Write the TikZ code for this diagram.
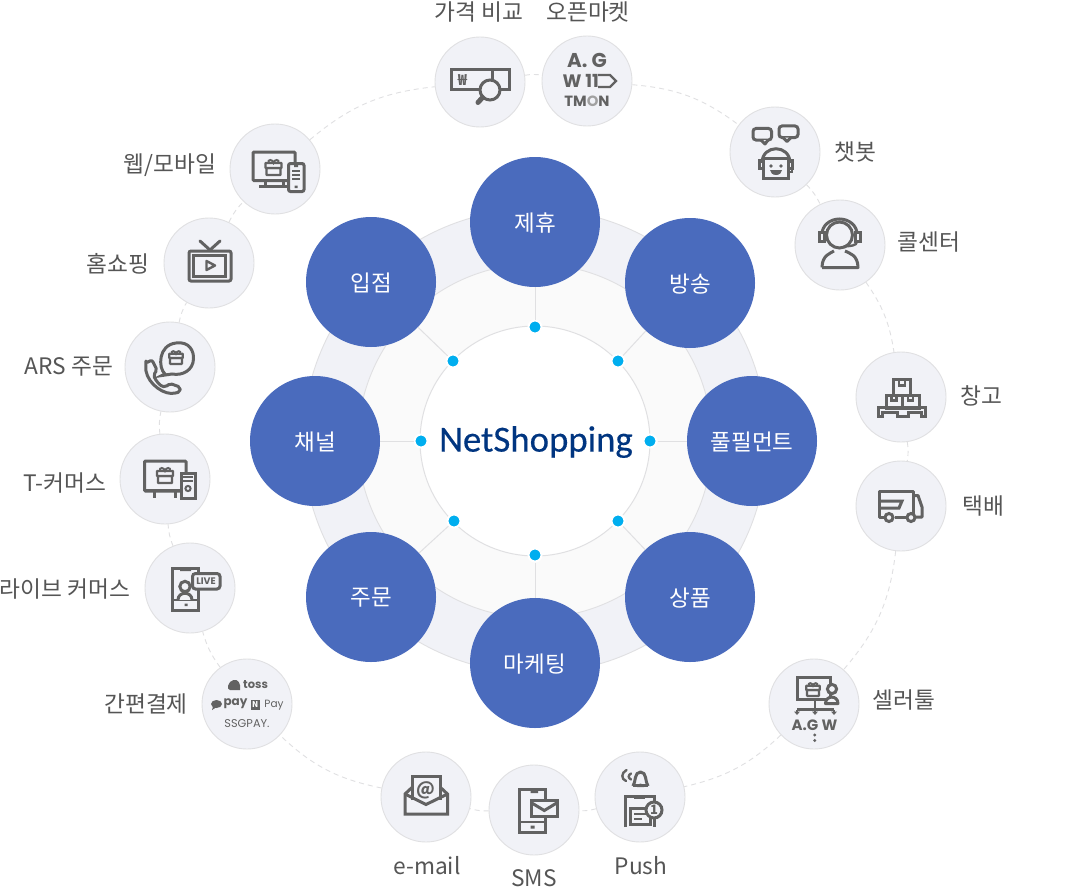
\documentclass[tikz,border=0pt]{standalone}
\usepackage{fontspec}
\setmainfont{Noto Sans CJK KR}
\newfontfamily\logofont[FakeBold=0.35]{Carlito}
\newfontfamily\brandfont{Poppins}
\newcommand{\hubtext}[1]{\raisebox{-1pt}[\height][\depth]{#1}}
\definecolor{ringout}{HTML}{F1F2F7}
\definecolor{ringmid}{HTML}{FAFAFA}
\definecolor{ringline}{HTML}{E0E0E2}
\definecolor{hubblue}{HTML}{4A6BBD}
\definecolor{dotblue}{HTML}{00AEEF}
\definecolor{iconbg}{HTML}{F1F2F7}
\definecolor{icongray}{HTML}{626262}
\definecolor{labelgray}{HTML}{555555}
\definecolor{navy}{HTML}{003580}
\tikzset{
  x=1pt,y=-1pt,
  hub/.style={circle,fill=hubblue,draw=none,minimum size=130pt,inner sep=0pt,text=white,font=\fontsize{22.5}{25}\selectfont},
  chan/.style={circle,fill=iconbg,draw=ringline,line width=0.9pt,minimum size=90pt,inner sep=0pt},
  lab/.style={text=labelgray,font=\fontsize{22.7}{26}\selectfont,inner sep=0pt},
  spot/.style={circle,fill=dotblue,draw=white,line width=2pt,minimum size=13pt,inner sep=0pt},
  spoke/.style={draw=ringline,line width=1pt},
  ringlink/.style={draw=ringline,line width=0.9pt,dash pattern=on 5pt off 4pt},
  ic/.style={draw=icongray,line width=3pt,line join=miter},
  logo/.style={text=icongray,inner sep=0pt,font=\brandfont\bfseries},
  gift/.pic={
    \draw[ic,line width=2.3pt,rounded corners=0.6pt] (-7,0) rectangle (7,7);
    \draw[ic,line width=2.3pt,fill=iconbg,rounded corners=0.6pt] (-8,-5) rectangle (8,0);
    \draw[ic,line width=2pt] (-5,-5) .. controls (-6,-9) and (-1,-9) .. (0,-5) .. controls (1,-9) and (6,-9) .. (5,-5);
  }
}
\begin{document}
\begin{tikzpicture}
\path[use as bounding box] (0,0) rectangle (1070,888);
\fill[white] (0,0) rectangle (1070,888);
\coordinate (ctr) at (535,441);
\node[circle,fill=ringout,draw=ringline,line width=0.9pt,minimum size=464pt,inner sep=0pt] (ringA) at (ctr) {};
\node[circle,fill=ringmid,draw=ringline,line width=0.9pt,minimum size=354pt,inner sep=0pt] (ringB) at (ctr) {};
\node[circle,fill=white,draw=ringline,line width=1pt,minimum size=230pt,inner sep=0pt] (core) at (ctr) {};
% hubs
\node[hub] (h1) at (535,222) {\hubtext{제휴}};
\node[hub] (h2) at (690,283) {\hubtext{방송}};
\node[hub] (h3) at (752,441) {\hubtext{풀필먼트}};
\node[hub] (h4) at (690,597) {\hubtext{상품}};
\node[hub] (h5) at (535,663) {\hubtext{마케팅}};
\node[hub] (h6) at (371,597) {\hubtext{주문}};
\node[hub] (h7) at (315,441) {\hubtext{채널}};
\node[hub] (h8) at (371,282) {\hubtext{입점}};
% dots
\node[spot] (d1) at (535,327) {};
\node[spot] (d2) at (618,361) {};
\node[spot] (d3) at (650,441) {};
\node[spot] (d4) at (618,521) {};
\node[spot] (d5) at (535,555) {};
\node[spot] (d6) at (454,521) {};
\node[spot] (d7) at (421,441) {};
\node[spot] (d8) at (453,361) {};
\foreach \i in {1,...,8} {\draw[spoke] (d\i) -- (h\i);}
\node[inner sep=0pt,text=navy,font=\logofont\fontsize{36.8}{40}\selectfont] (brand) at (536,442) {NetShopping};
% channel nodes
\node[chan] (c1) at (480,82) {};
\node[chan] (c2) at (587,81) {};
\node[chan] (c3) at (775,152) {};
\node[chan] (c4) at (840,245) {};
\node[chan] (c5) at (901,397) {};
\node[chan] (c6) at (901,506) {};
\node[chan] (c7) at (814,704) {};
\node[chan] (c8) at (640,797) {};
\node[chan] (c9) at (534,810) {};
\node[chan] (c10) at (426,797) {};
\node[chan] (c11) at (247,704) {};
\node[chan] (c12) at (190,588) {};
\node[chan] (c13) at (165,479) {};
\node[chan] (c14) at (170,367) {};
\node[chan] (c15) at (209,263) {};
\node[chan] (c16) at (275,169) {};
% dashed outer ring
\draw[ringlink] (c1) to[bend left=8] (c2);
\draw[ringlink] (c2) to[bend left=16] (c3);
\draw[ringlink] (c3) to[bend left=9] (c4);
\draw[ringlink] (c4) to[bend left=13] (c5);
\draw[ringlink] (c5) to[bend left=8] (c6);
\draw[ringlink] (c6) to[bend left=17] (c7);
\draw[ringlink] (c7) to[bend left=15] (c8);
\draw[ringlink] (c8) to[bend left=8] (c9);
\draw[ringlink] (c9) to[bend left=8] (c10);
\draw[ringlink] (c10) to[bend left=16] (c11);
\draw[ringlink] (c11) to[bend left=10] (c12);
\draw[ringlink] (c12) to[bend left=9] (c13);
\draw[ringlink] (c13) to[bend left=9] (c14);
\draw[ringlink] (c14) to[bend left=9] (c15);
\draw[ringlink] (c15) to[bend left=9] (c16);
\draw[ringlink] (c16) to[bend left=17] (c1);
% labels
\node[lab] (l1) at (479,12) {가격 비교};
\node[lab] (l2) at (588,12) {오픈마켓};
\node[lab] (l3) at (855,152) {챗봇};
\node[lab] (l4) at (929,242) {콜센터};
\node[lab] (l5) at (981,396) {창고};
\node[lab] (l6) at (983,506) {택배};
\node[lab] (l7) at (904,700) {셀러툴};
\node[lab] (l8) at (641,866) {Push};
\node[lab] (l9) at (534,878) {SMS};
\node[lab] (l10) at (427,866) {e-mail};
\node[lab] (l11) at (146,704) {간편결제};
\node[lab] (l12) at (65,589) {라이브 커머스};
\node[lab] (l13) at (65,483) {T-커머스};
\node[lab] (l14) at (69,366) {ARS 주문};
\node[lab] (l15) at (118,264) {홈쇼핑};
\node[lab] (l16) at (170,165) {웹/모바일};
% ---- icon: price compare
\draw[ic] (451,70) rectangle (509,89.5);
\draw[ic] (492,70) -- (492,80);
\draw[ic,fill=iconbg] (490,90) circle (10);
\draw[ic,line width=5pt,line cap=round] (482.5,97.5) -- (478,102.5);
\node[logo,font=\bfseries\fontsize{15}{16}\selectfont] (won) at (462.5,80) {₩};
% ---- icon: open market
\node[logo,font=\brandfont\bfseries\fontsize{20}{20}\selectfont] (ag) at (587,60) {A. G};
\node[logo,font=\brandfont\bfseries\fontsize{18}{18}\selectfont,anchor=east] (w11) at (599,81) {W 11};
\draw[ic,line width=2.4pt] (598,75) -- (610,75) -- (616,81) -- (610,87) -- (598,87);
\node[logo,font=\brandfont\bfseries\fontsize{14.8}{14}\selectfont] (tmon) at (587,101) {TM{\color{icongray!60}O}N};
% ---- icon: chatbot
\draw[ic,rounded corners=3pt] (753,128.5) rectangle (771.5,140);
\draw[ic,line join=round,fill=iconbg] (761,140) -- (765,144) -- (768,140);
\draw[ic,rounded corners=3pt] (779,126) rectangle (798,137.5);
\draw[ic,line join=round,fill=iconbg] (783,137.5) -- (787,141.5) -- (791,137.5);
\draw[ic] (762,163) .. controls (762,144) and (790,144) .. (790,163);
\draw[ic] (763.5,158) -- (788,158) -- (788,178) -- (763.5,178) -- cycle;
\draw[ic] (759,160.5) rectangle (763.5,168);
\draw[ic] (788,160.5) rectangle (792.5,168);
\draw[ic,line width=2.2pt] (792,168) -- (792,172) -- (788,172);
\fill[icongray] (771,166) circle (1.8) (781,166) circle (1.8);
\fill[icongray] (770,170) -- (782,170) arc[start angle=180,end angle=360,x radius=-6,y radius=-5] -- cycle;
% ---- icon: call centre
\draw[ic] (839.5,235) circle (13);
\draw[ic] (822,234) arc[start angle=180,end angle=0,x radius=17.5,y radius=-15];
\draw[ic,fill=iconbg] (819.5,232) rectangle (824.5,241.5);
\draw[ic,fill=iconbg] (855,232) rectangle (860,241.5);
\draw[ic,line width=2.4pt] (857,241.5) .. controls (857,246) and (850,246) .. (843.5,246.5);
\draw[ic,line join=round] (822,267.5) .. controls (822,255) and (831,253) .. (834,251) (845,251) .. controls (849,253) and (858,255) .. (858,267.5) -- (822,267.5);
% ---- icon: warehouse
\draw[ic] (893.5,379.5) rectangle (910.5,395);
\draw[ic,line width=2.2pt] (899,379.5) -- (899,385.5) -- (905,385.5) -- (905,379.5);
\draw[ic] (886,395) rectangle (902.3,408);
\draw[ic] (902.3,395) rectangle (919,408);
\draw[ic,line width=2.2pt] (891.5,395) -- (891.5,400.5) -- (896.5,400.5) -- (896.5,395);
\draw[ic,line width=2.2pt] (908,395) -- (908,400.5) -- (913,400.5) -- (913,395);
\draw[ic] (878,416.5) -- (878,407.5) -- (925.5,407.5) -- (925.5,416.5) -- (921,416.5) -- (921,412.5) -- (908,412.5) -- (908,416.5) -- (897,416.5) -- (897,412.5) -- (882.5,412.5) -- (882.5,416.5) -- cycle;
% ---- icon: truck
\draw[ic,line join=round] (884,517) -- (879,517) -- (879,491) -- (913,491) -- (913,517) -- (895,517);
\draw[ic] (879,501) -- (902,501) -- (899,508) -- (879,508);
\draw[ic,line join=round] (913,495.5) -- (918,495.5) -- (922,507) -- (922,517) -- (916,517);
\draw[ic,fill=iconbg] (889,517.5) circle (4);
\draw[ic,fill=iconbg] (911,517.5) circle (4);
% ---- icon: seller tools
\draw[ic] (797,677) rectangle (830,699.5);
\pic[scale=0.85] at (813,690) {gift};
\draw[ic,fill=iconbg] (832,689) circle (4.6);
\draw[ic,fill=iconbg,line join=round] (825.5,703.5) .. controls (825.5,695) and (838,695) .. (838,703.5) -- cycle;
\draw[ic,line width=2.2pt] (815,700) -- (815,712);
\draw[ic,line width=2.2pt] (797,709.5) -- (834,709.5);
\draw[ic,line width=2.2pt] (797,709.5) -- (797,712);
\draw[ic,line width=2.2pt] (834,709.5) -- (834,712);
\fill[icongray] (794,711.5) -- (800,711.5) -- (797,715) -- cycle (812,711.5) -- (818,711.5) -- (815,715) -- cycle (831,711.5) -- (837,711.5) -- (834,715) -- cycle;
\node[logo,font=\brandfont\bfseries\fontsize{15}{14}\selectfont] (agw) at (814.5,725) {A.G W};
\fill[icongray] (814.7,735) circle (1.6) (814.7,740.5) circle (1.6);
% ---- icon: push
\draw[ic,line width=2.4pt] (633,785.5) -- (648,785.5);
\draw[ic,line join=round] (633,786) .. controls (636,782) and (634,772) .. (640.5,772) .. controls (647,772) and (645,782) .. (648,786);
\fill[icongray] (637,787) -- (644,787) arc[start angle=0,end angle=180,x radius=3.5,y radius=-3.5];
\draw[ic,line width=2.4pt,line cap=round] (626.5,770) .. controls (621,773) and (621,779) .. (626,781);
\draw[ic,line width=2.4pt,line cap=round] (631,773.5) .. controls (628,775) and (628,778) .. (631,779.5);
\draw[ic] (625.5,827) -- (625.5,796) -- (654,796) -- (654,827);
\fill[icongray] (634,795) rectangle (645,798.5);
\draw[ic,fill=iconbg] (630.5,808) rectangle (650,824);
\draw[ic,line width=2.2pt] (634,814) -- (646,814) (634,819) -- (642,819);
\draw[ic,fill=iconbg] (654,810) circle (8);
\node[logo,font=\bfseries\fontsize{13}{12}\selectfont] (badge) at (654,810) {1};
% ---- icon: SMS
\draw[ic] (519,789.5) rectangle (545.5,832);
\draw[ic,line width=2.4pt] (519,822) -- (545.5,822);
\fill[icongray] (530.5,789) rectangle (538,793) (530.5,825.5) rectangle (534.5,828.5);
\draw[ic,fill=iconbg] (531,800.5) rectangle (557.5,816.5);
\draw[ic] (531,802.5) -- (544.3,810.5) -- (557.5,802.5);
% ---- icon: e-mail
\draw[ic,fill=iconbg] (412.5,800) -- (412.5,776) -- (440,776) -- (440,800);
\draw[ic] (412.5,787) -- (405,794) -- (405,814) -- (447.5,814) -- (447.5,794) -- (440,787);
\draw[ic] (405,794) -- (426,804.5) -- (447.5,794);
\node[logo,font=\bfseries\fontsize{18}{18}\selectfont] (at) at (426,790) {@};
% ---- icon: easy payment
\fill[icongray] (233.5,680) .. controls (238,679) and (241,683) .. (240,690) -- (230,690) .. controls (226,690) and (228,681) .. (233.5,680) -- cycle;
\node[logo,font=\brandfont\bfseries\fontsize{11.5}{12}\selectfont] (toss) at (255.5,685) {toss};
\fill[icongray] (216.5,704) ellipse (5.5 and 4) (213,706.5) -- (216,707.5) -- (212,710) -- cycle;
\node[logo,font=\brandfont\bfseries\fontsize{12}{12}\selectfont] (pay) at (235.5,704) {pay};
\fill[icongray] (250.5,700) rectangle (260,710);
\node[text=white,inner sep=0pt,font=\bfseries\fontsize{8}{8}\selectfont] (nbox) at (255.2,705) {N};
\node[text=icongray,inner sep=0pt,font=\brandfont\fontsize{10.5}{11}\selectfont] (npay) at (274,705) {Pay};
\node[text=icongray,inner sep=0pt,font=\brandfont\fontsize{11.3}{12}\selectfont] (ssg) at (247,724) {SSGPAY.};
% ---- icon: live commerce
\draw[ic] (172.5,568) rectangle (198,610);
\draw[ic,line width=2.4pt] (172.5,600) -- (198,600);
\fill[icongray] (180,567.5) rectangle (191,571) (184.5,603.5) rectangle (187.5,606);
\draw[ic,fill=iconbg,rounded corners=3pt] (192.5,573.5) rectangle (220,589);
\node[logo,font=\brandfont\bfseries\fontsize{9.5}{10}\selectfont] (live) at (206,581.2) {LIVE};
\draw[ic,fill=iconbg] (185,586.5) circle (5.2);
\draw[ic,fill=iconbg,line join=round] (178,600) .. controls (178,591) and (192,591) .. (192,600);
% ---- icon: T-commerce
\draw[ic,rounded corners=1pt] (144.5,461) rectangle (186,491);
\draw[ic] (144.5,490) -- (186,490);
\draw[ic] (154.5,491) -- (154.5,498) (175,491) -- (175,498);
\draw[ic,fill=iconbg] (181,473) rectangle (195,498);
\draw[ic,line width=2pt] (183,477) -- (193,477) (183,481) -- (193,481);
\draw[ic,line width=2pt] (188,488.5) circle (2.6);
\pic at (165,476) {gift};
% ---- icon: ARS
\draw[ic] (165,374) .. controls (158,368) and (158,345) .. (176,343) .. controls (190,341) and (194,352) .. (193.5,359) .. controls (193,370) and (183,376) .. (172,374) -- (162,375.5) -- cycle;
\pic[scale=0.85] at (176,358) {gift};
\draw[ic,line join=round,rounded corners=2pt] (146,363) -- (152,360) -- (157,370) -- (153.5,375) .. controls (156,381) and (160,386) .. (165.5,387) -- (170,383.5) -- (180,387) -- (180,392) -- (173,393.5) .. controls (160,393) and (144,380) .. cycle;
% ---- icon: home shopping
\draw[ic,rounded corners=2pt] (189,251) rectangle (231,281);
\draw[ic] (193,255.5) rectangle (225,276.5);
\draw[ic,line cap=round] (200,241) -- (210,250) -- (220,241);
\draw[ic,line width=2.4pt,line join=round] (206.5,261) -- (215,265.5) -- (206.5,270) -- cycle;
% ---- icon: web / mobile
\draw[ic,rounded corners=1pt] (253,152) rectangle (295,180.5);
\draw[ic] (265,180.5) -- (265,186) (283,180.5) -- (283,186);
\draw[ic] (259,186) -- (292,186);
\pic at (273.5,168) {gift};
\draw[ic,fill=iconbg,rounded corners=2pt] (288.5,163.5) rectangle (304,191.5);
\draw[ic,line width=1.8pt] (292,171) -- (300,171) (292,175) -- (300,175) (292,179) -- (300,179);
\fill[icongray] (294,165) rectangle (298,167) (294.5,185.5) rectangle (297.5,188);
\end{tikzpicture}
\end{document}
